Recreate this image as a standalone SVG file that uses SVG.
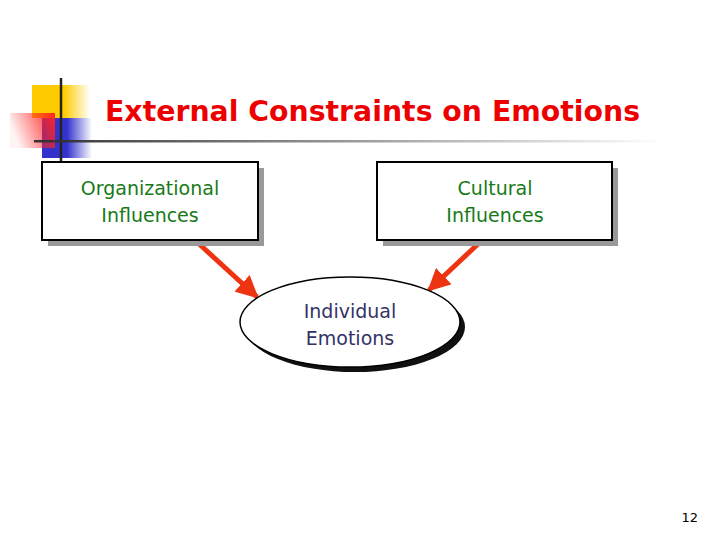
<svg xmlns="http://www.w3.org/2000/svg" width="720" height="540" viewBox="0 0 720 540">
<defs>
<linearGradient id="gy" x1="0" x2="1" y1="0" y2="0"><stop offset="0" stop-color="#ffcc00"/><stop offset="0.55" stop-color="#ffcc00"/><stop offset="1" stop-color="#ffcc00" stop-opacity="0"/></linearGradient>
<linearGradient id="gb" x1="0" x2="1" y1="0" y2="0"><stop offset="0" stop-color="#3333cc"/><stop offset="0.5" stop-color="#3333cc"/><stop offset="1" stop-color="#3333cc" stop-opacity="0"/></linearGradient>
<linearGradient id="gr" x1="1" x2="0" y1="0" y2="0.3"><stop offset="0" stop-color="#ff2222"/><stop offset="1" stop-color="#ff2222" stop-opacity="0.05"/></linearGradient>
<linearGradient id="gl" x1="0" x2="1" y1="0" y2="0"><stop offset="0" stop-color="#333333"/><stop offset="1" stop-color="#333333" stop-opacity="0"/></linearGradient>
<marker id="ah" viewBox="0 0 10 10" refX="9" refY="5" markerWidth="4.5" markerHeight="4.5" orient="auto" markerUnits="strokeWidth"><path d="M0,0 L10,5 L0,10 z" fill="#ee3311"/></marker>
</defs>
<style>
.box{fill:#fff;stroke:#000;stroke-width:2}
.sh{fill:#999}
.gt{font-family:"DejaVu Sans",Verdana,sans-serif;font-size:19px;fill:#177a17;text-anchor:middle}
.nt{font-family:"DejaVu Sans",Verdana,sans-serif;font-size:19px;fill:#333366;text-anchor:middle}
.conn{stroke:#ee3311;stroke-width:5;fill:none}
</style>
<rect width="720" height="540" fill="#fff"/>
<g id="logo">
<rect x="32" y="85" width="58" height="33" fill="url(#gy)"/>
<rect x="42" y="118" width="50" height="40" fill="url(#gb)"/>
<rect x="10" y="113" width="45" height="35" fill="url(#gr)"/>
<line x1="61" y1="78" x2="61" y2="161" stroke="#222" stroke-width="2.5"/>
<rect x="34" y="140" width="630" height="2.5" fill="url(#gl)"/>
</g>
<g id="title">
<text x="105" y="121" font-family="'DejaVu Sans',Verdana,sans-serif" font-weight="bold" font-size="28" fill="#ee0000" textLength="535" lengthAdjust="spacingAndGlyphs">External Constraints on Emotions</text>
</g>
<g id="connectors">
<line class="conn" x1="197" y1="242" x2="257" y2="297" marker-end="url(#ah)"/>
<line class="conn" x1="478" y1="244" x2="429" y2="290" marker-end="url(#ah)"/>
</g>
<g id="org">
<rect class="sh" x="48" y="168" width="216" height="78"/>
<rect class="box" x="42" y="162" width="216" height="78"/>
<text class="gt" x="150" y="195">Organizational</text>
<text class="gt" x="150" y="222">Influences</text>
</g>
<g id="cult">
<rect class="sh" x="383" y="168" width="235" height="78"/>
<rect class="box" x="377" y="162" width="235" height="78"/>
<text class="gt" x="495" y="195">Cultural</text>
<text class="gt" x="495" y="222">Influences</text>
</g>
<g id="indiv">
<ellipse cx="355" cy="327" rx="110" ry="45" fill="#111"/>
<ellipse cx="350" cy="322" rx="110" ry="45" fill="#fff" stroke="#000" stroke-width="1.5"/>
<text class="nt" x="350" y="318">Individual</text>
<text class="nt" x="350" y="345">Emotions</text>
</g>
<text x="698" y="522" font-family="'DejaVu Sans',Verdana,sans-serif" font-size="13" text-anchor="end" fill="#000">12</text>
</svg>
